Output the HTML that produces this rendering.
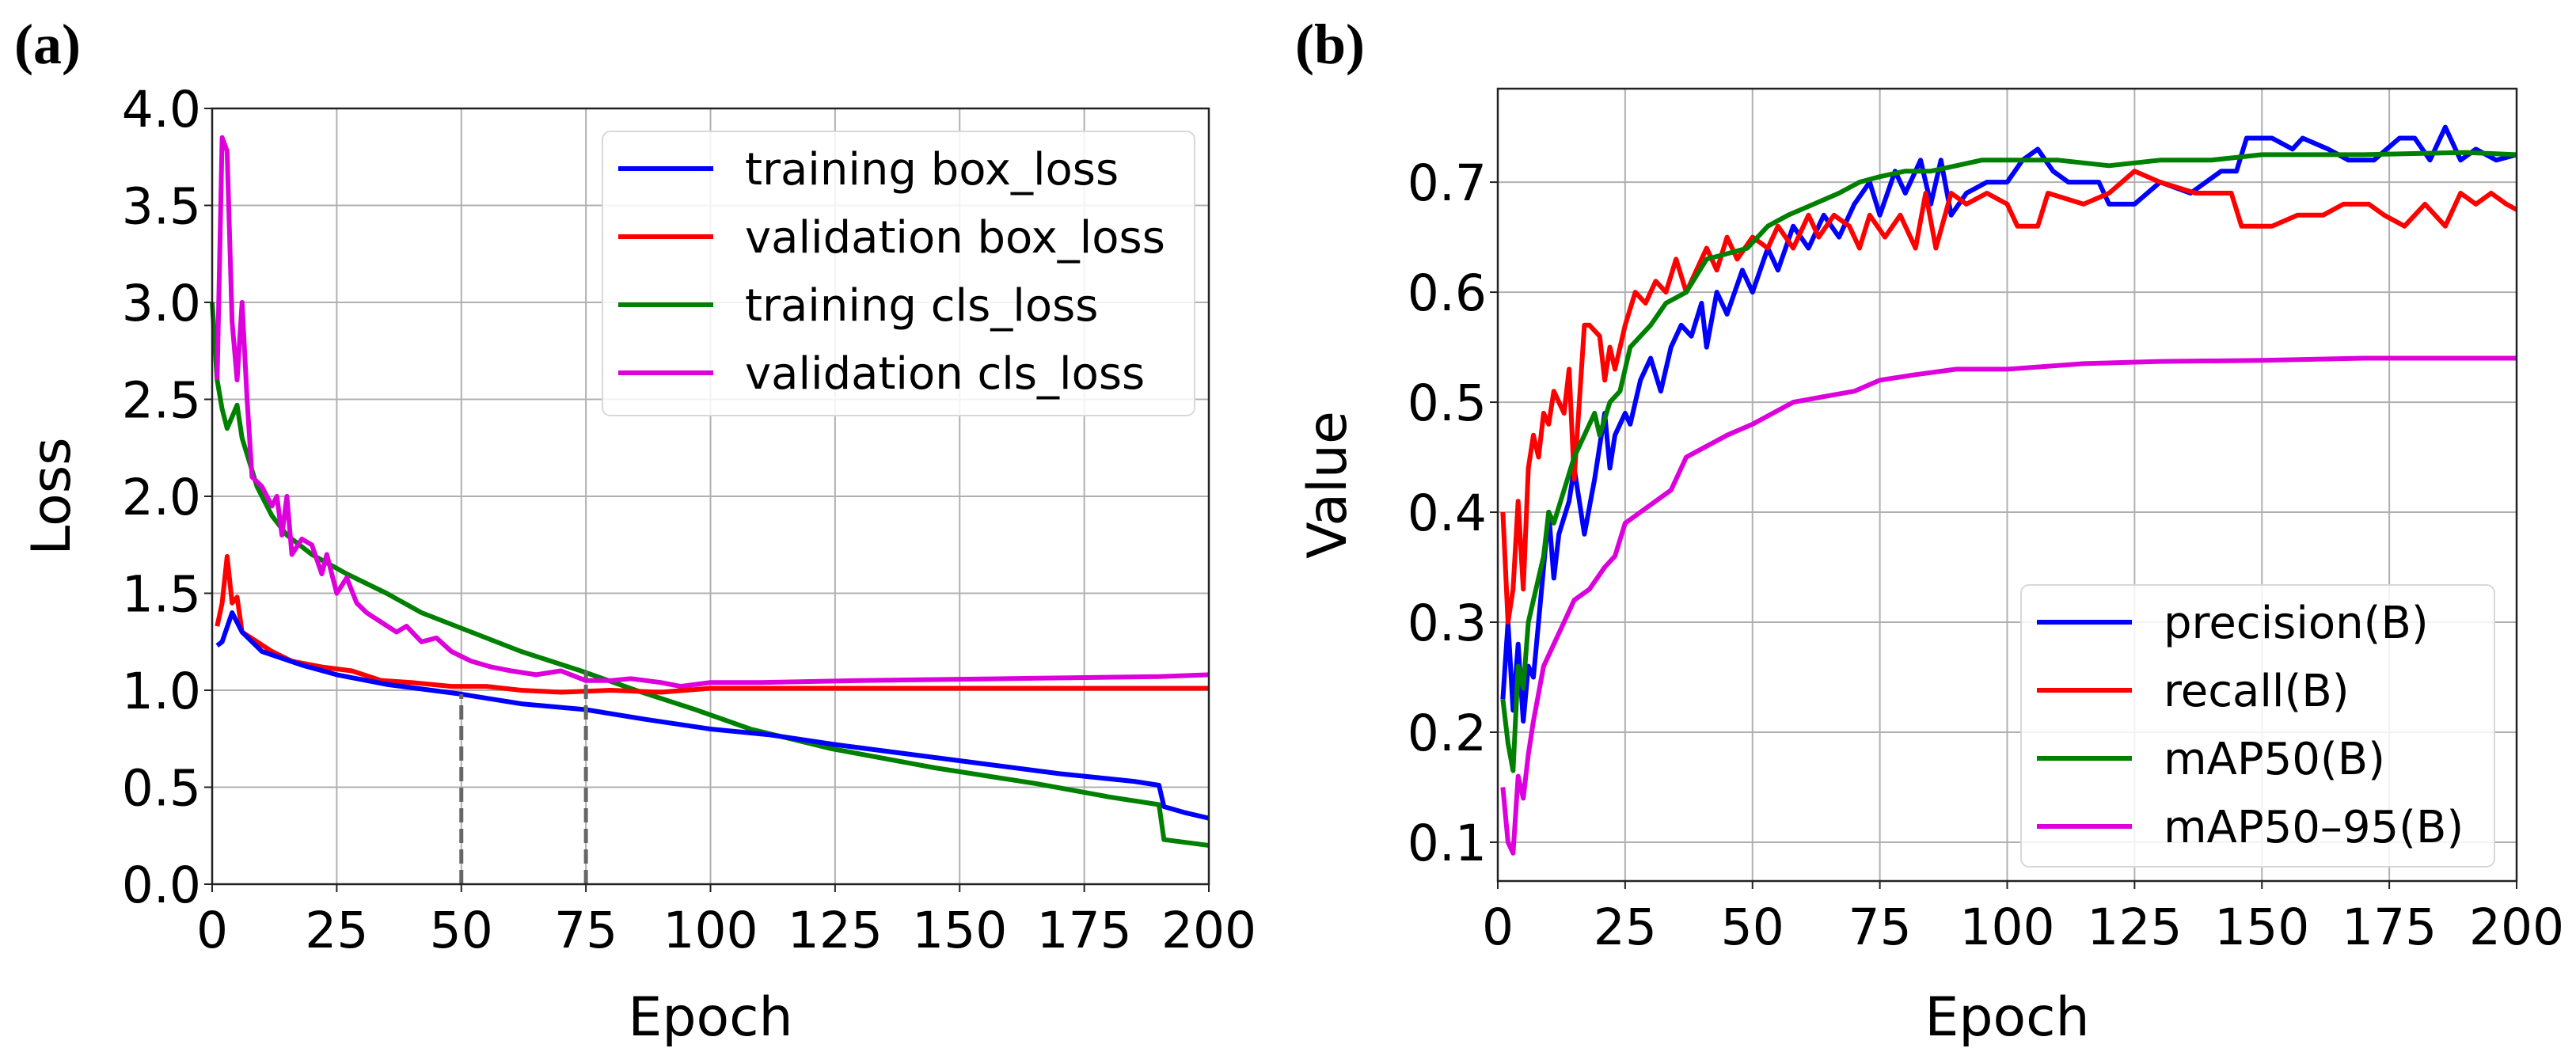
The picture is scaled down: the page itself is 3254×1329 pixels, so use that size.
<!DOCTYPE html>
<html><head><meta charset="utf-8"><style>
html,body{margin:0;padding:0;background:#fff;}
svg{display:block;font-family:"DejaVu Sans","Liberation Sans",sans-serif;}
</style></head><body>
<svg id="fig" width="3254" height="1329" viewBox="0 0 3254 1329" xmlns="http://www.w3.org/2000/svg">
<text x="18" y="80" font-family="Liberation Serif, serif" font-weight="bold" font-size="72">(a)</text>
<text x="1636" y="80" font-family="Liberation Serif, serif" font-weight="bold" font-size="72">(b)</text>
<g id="pa"></g>
<g id="pb"></g>
</svg>
<script>
// ---- Panel (a) data ----
const tbEp=[1,2,4,6,10,18,25,35,50,62,75,87,100,112,125,140,155,170,185,190,191,195,200];
const tbV=[1.23,1.25,1.4,1.3,1.2,1.13,1.08,1.03,0.98,0.93,0.9,0.85,0.8,0.77,0.72,0.67,0.62,0.57,0.53,0.51,0.4,0.37,0.34];
const vbEp=[1,2,3,4,5,6,9,12,16,22,28,34,40,48,55,62,70,80,90,95,100,150,200];
const vbV=[1.33,1.45,1.69,1.45,1.48,1.3,1.25,1.2,1.15,1.12,1.1,1.05,1.04,1.02,1.02,1.0,0.99,1.0,0.99,1.0,1.01,1.01,1.01];
const tcEp=[0,1,2,3,5,6,9,12,15,20,27,35,42,52,62,74,85,97,108,124,145,165,180,190,191,200];
const tcV=[3.0,2.6,2.45,2.35,2.47,2.3,2.05,1.9,1.8,1.7,1.6,1.5,1.4,1.3,1.2,1.1,1.0,0.9,0.8,0.7,0.6,0.52,0.45,0.41,0.23,0.2];
const vcEp=[1,2,3,4,5,6,7,8,10,12,13,14,15,16,18,20,22,23,25,27,29,31,34,37,39,42,45,48,52,56,60,65,70,75,80,84,90,94,100,110,130,160,190,200];
const vcV=[2.6,3.85,3.78,2.9,2.6,3.0,2.5,2.1,2.05,1.95,2.0,1.8,2.0,1.7,1.78,1.75,1.6,1.7,1.5,1.58,1.45,1.4,1.35,1.3,1.33,1.25,1.27,1.2,1.15,1.12,1.1,1.08,1.1,1.05,1.05,1.06,1.04,1.02,1.04,1.04,1.05,1.06,1.07,1.08];
const markEp=[50,75];
const markV=[0.98,1.1];
const aYTicks=[0,0.5,1.0,1.5,2.0,2.5,3.0,3.5,4.0];
const xTicks=[0,25,50,75,100,125,150,175,200];
const aLegend=["training box_loss","validation box_loss","training cls_loss","validation cls_loss"];
// ---- Panel (b) data ----
const prEp=[1,2,3,4,5,6,7,8,9,10,11,12,14,15,16,17,19,21,22,23,25,26,28,30,32,34,36,38,40,41,43,45,48,50,53,55,58,61,64,67,70,73,75,78,80,83,85,87,89,92,96,100,103,106,109,112,118,120,125,130,136,142,145,147,152,156,158,163,167,172,177,180,183,186,189,192,196,200];
const prV=[0.23,0.30,0.22,0.28,0.21,0.26,0.25,0.3,0.35,0.4,0.34,0.38,0.41,0.44,0.41,0.38,0.43,0.49,0.44,0.47,0.49,0.48,0.52,0.54,0.51,0.55,0.57,0.56,0.59,0.55,0.6,0.58,0.62,0.6,0.64,0.62,0.66,0.64,0.67,0.65,0.68,0.7,0.67,0.71,0.69,0.72,0.68,0.72,0.67,0.69,0.7,0.7,0.72,0.73,0.71,0.7,0.7,0.68,0.68,0.7,0.69,0.71,0.71,0.74,0.74,0.73,0.74,0.73,0.72,0.72,0.74,0.74,0.72,0.75,0.72,0.73,0.72,0.725];
const rcEp=[1,2,3,4,5,6,7,8,9,10,11,13,14,15,16,17,18,20,21,22,23,25,27,29,31,33,35,37,39,41,43,45,47,50,53,55,58,61,63,66,69,71,73,76,79,82,84,86,89,92,96,100,102,106,108,115,120,125,130,137,144,146,152,157,162,166,171,174,178,182,186,189,192,195,198,200];
const rcV=[0.40,0.3,0.33,0.41,0.33,0.44,0.47,0.45,0.49,0.48,0.51,0.49,0.53,0.43,0.5,0.57,0.57,0.56,0.52,0.55,0.53,0.57,0.6,0.59,0.61,0.6,0.63,0.6,0.62,0.64,0.62,0.65,0.63,0.65,0.64,0.66,0.64,0.67,0.65,0.67,0.66,0.64,0.67,0.65,0.67,0.64,0.69,0.64,0.69,0.68,0.69,0.68,0.66,0.66,0.69,0.68,0.69,0.71,0.70,0.69,0.69,0.66,0.66,0.67,0.67,0.68,0.68,0.67,0.66,0.68,0.66,0.69,0.68,0.69,0.68,0.675];
const mpEp=[1,2,3,4,5,6,7,9,10,11,13,15,17,19,20,22,24,26,28,30,33,37,41,45,49,53,57,62,67,71,75,80,85,90,95,100,110,120,130,140,150,170,190,200];
const mpV=[0.23,0.19,0.165,0.26,0.24,0.3,0.32,0.36,0.4,0.39,0.42,0.45,0.47,0.49,0.47,0.5,0.51,0.55,0.56,0.57,0.59,0.6,0.63,0.635,0.64,0.66,0.67,0.68,0.69,0.7,0.705,0.71,0.71,0.715,0.72,0.72,0.72,0.715,0.72,0.72,0.725,0.725,0.727,0.725];
const m9Ep=[1,2,3,4,5,6,7,9,11,13,15,18,21,23,25,28,31,34,37,41,45,50,54,58,64,70,75,82,90,100,115,130,150,170,200];
const m9V=[0.15,0.1,0.09,0.16,0.14,0.18,0.21,0.26,0.28,0.3,0.32,0.33,0.35,0.36,0.39,0.4,0.41,0.42,0.45,0.46,0.47,0.48,0.49,0.5,0.505,0.51,0.52,0.525,0.53,0.53,0.535,0.537,0.538,0.54,0.54];
const bYTicks=[0.1,0.2,0.3,0.4,0.5,0.6,0.7];
const bLegend=["precision(B)","recall(B)","mAP50(B)","mAP50\u201395(B)"];

const NS="http://www.w3.org/2000/svg";
function mk(parent,tag,attrs){const e=document.createElementNS(NS,tag);for(const k in attrs)e.setAttribute(k,attrs[k]);parent.appendChild(e);return e;}
const C={blue:"#0000ff",red:"#ff0000",green:"#008000",mag:"#dd00dd"};

function panel(g,L,R,T,B,y0,y1,yTicks,series,legend,legCols,leg,ylabel,marks){
  const sx=e=>L+(e/200)*(R-L);
  const sy=v=>B-(v-y0)/(y1-y0)*(B-T);
  for(const t of xTicks){
    const l=mk(g,"line",{x1:sx(t),x2:sx(t),y1:T,y2:B,stroke:"#b0b0b0","stroke-width":2});
    
    
    mk(g,"line",{x1:sx(t),x2:sx(t),y1:B,y2:B+10,stroke:"#222","stroke-width":2});
    const tx=mk(g,"text",{x:sx(t),y:B+80,"text-anchor":"middle","font-size":63});
    tx.textContent=t;
    
    
  }
  for(const t of yTicks){
    const l=mk(g,"line",{x1:L,x2:R,y1:sy(t),y2:sy(t),stroke:"#b0b0b0","stroke-width":2});
    
    
    mk(g,"line",{x1:L-10,x2:L,y1:sy(t),y2:sy(t),stroke:"#222","stroke-width":2});
    const tx=mk(g,"text",{x:L-14,y:sy(t)+23,"text-anchor":"end","font-size":63});
    tx.textContent=t.toFixed(1);
    
    
  }
  for(const s of series){
    const d=s.ep.map((e,i)=>(i?"L":"M")+sx(e).toFixed(1)+","+sy(s.v[i]).toFixed(1)).join("");
    const p=mk(g,"path",{d:d,fill:"none",stroke:s.c,"stroke-width":6,"stroke-linejoin":"round"});
    
    
  }
  if(marks){
    markEp.forEach((e,i)=>{
      const l=mk(g,"line",{x1:sx(e),x2:sx(e),y1:B,y2:sy(markV[i]),stroke:"#666","stroke-width":5,"stroke-dasharray":"18,8"});
      
      
    });
  }
  const fr=mk(g,"rect",{x:L,y:T,width:R-L,height:B-T,fill:"none",stroke:"#222","stroke-width":2.5});
  
  
  const lg=mk(g,"g",{});
  
  
  mk(lg,"rect",{x:leg.x,y:leg.y,width:leg.w,height:leg.h,rx:10,fill:"#fff","fill-opacity":0.85,stroke:"#d8d8d8","stroke-width":2});
  legend.forEach((name,i)=>{
    const y=leg.r0+i*leg.dr;
    mk(lg,"line",{x1:leg.x+20,x2:leg.x+140,y1:y,y2:y,stroke:legCols[i],"stroke-width":6});
    const tx=mk(lg,"text",{x:leg.x+180,y:y+20,"font-size":56});
    tx.textContent=name;
    
    
  });
  const xl=mk(g,"text",{x:(L+R)/2,y:1308,"text-anchor":"middle","font-size":68});
  xl.textContent="Epoch";
  
  
  const yx=ylabel.x,yy=(T+B)/2;
  const yl=mk(g,"text",{x:yx,y:yy,"text-anchor":"middle","font-size":68,transform:`rotate(-90 ${yx} ${yy})`});
  yl.textContent=ylabel.t;
  
  
}

panel(document.getElementById("pa"),268,1527,137,1117,0,4,aYTicks,
 [{ep:tcEp,v:tcV,c:C.green,name:"training-cls-loss-line"},
  {ep:vcEp,v:vcV,c:C.mag,name:"validation-cls-loss-line"},
  {ep:vbEp,v:vbV,c:C.red,name:"validation-box-loss-line"},
  {ep:tbEp,v:tbV,c:C.blue,name:"training-box-loss-line"}],
 aLegend,[C.blue,C.red,C.green,C.mag],{x:761,y:166,w:748,h:359,r0:213,dr:86},{x:88,t:"Loss"},true);
panel(document.getElementById("pb"),1892,3179,112,1113,0.0647,0.785,bYTicks,
 [{ep:prEp,v:prV,c:C.blue,name:"precision-line"},
  {ep:rcEp,v:rcV,c:C.red,name:"recall-line"},
  {ep:mpEp,v:mpV,c:C.green,name:"map50-line"},
  {ep:m9Ep,v:m9V,c:C.mag,name:"map50-95-line"}],
 bLegend,[C.blue,C.red,C.green,C.mag],{x:2553,y:739,w:598,h:356,r0:786,dr:86},{x:1700,t:"Value"},false);
</script>
</body></html>
